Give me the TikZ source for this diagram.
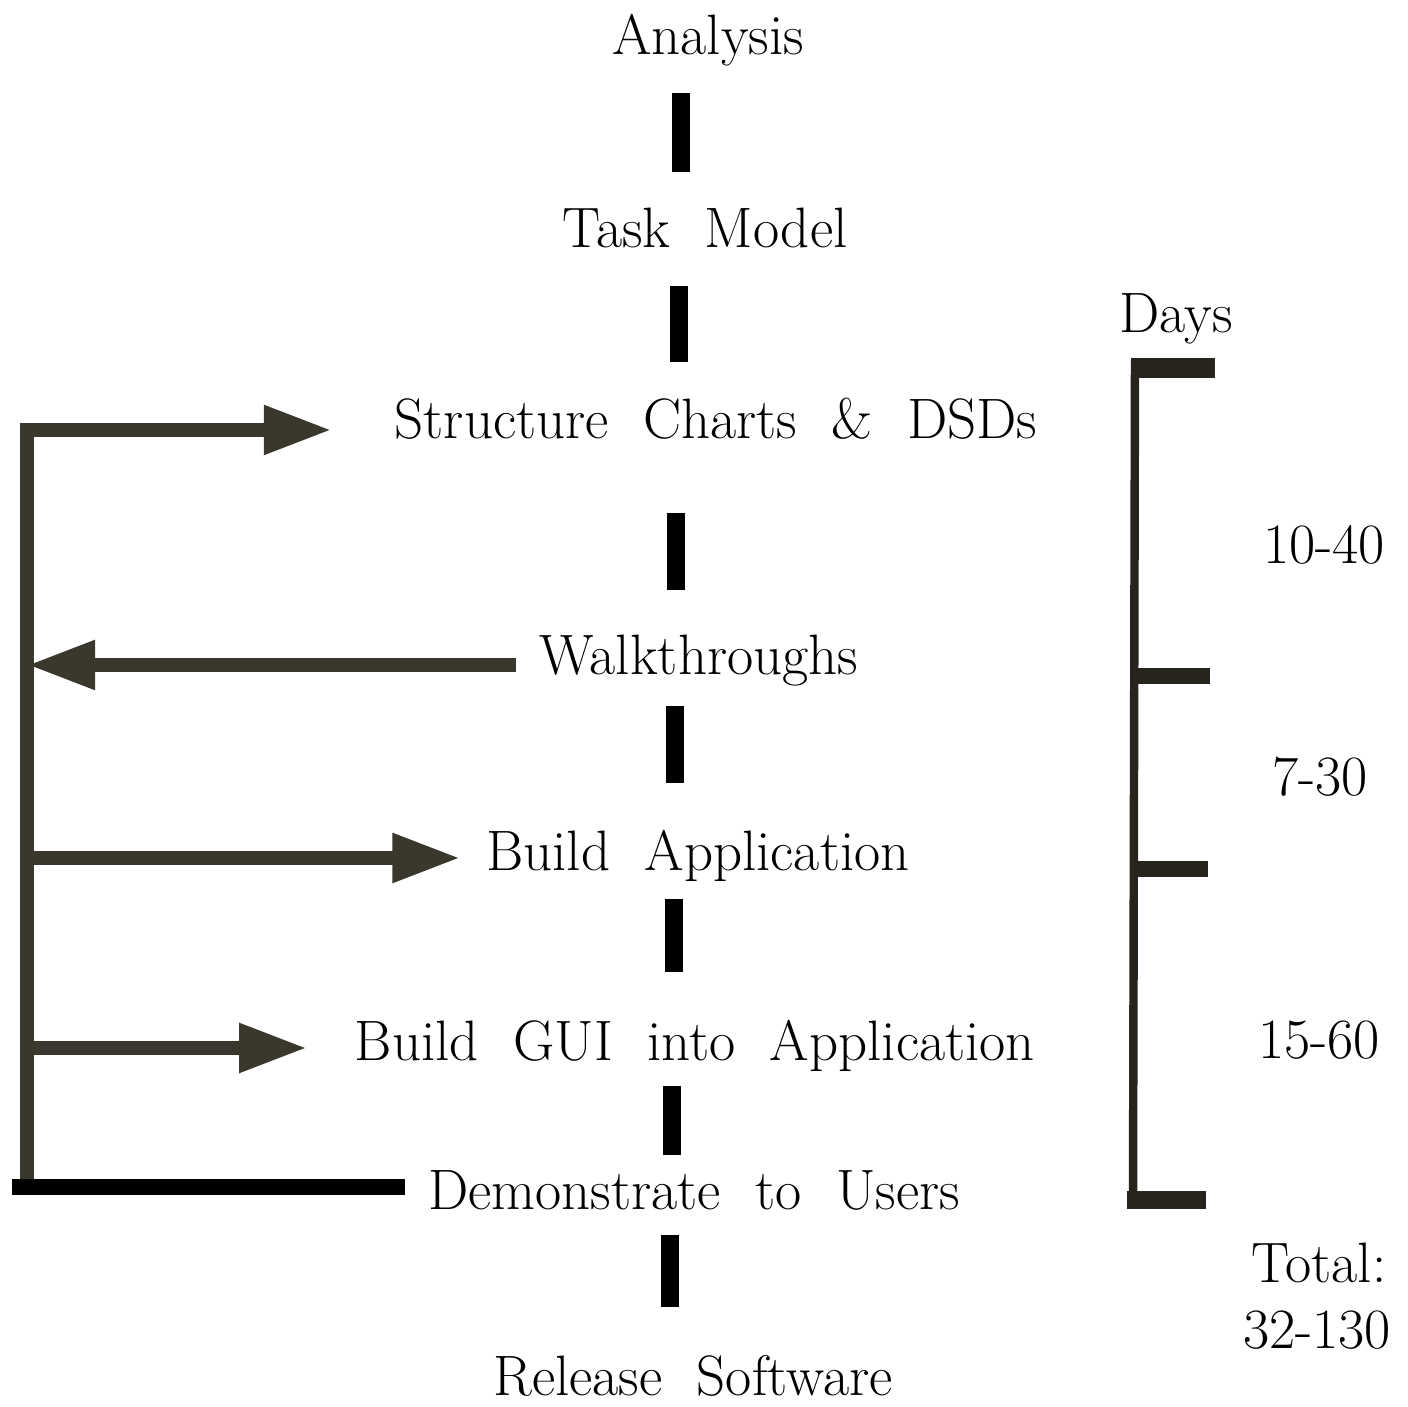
\documentclass[tikz,border=0pt]{standalone}
\usepackage{tikz}
\usetikzlibrary{arrows.meta,calc}
\definecolor{arrowgray}{RGB}{58,56,44}
\definecolor{brackgray}{RGB}{38,36,28}
\tikzset{
  stage/.style={inner sep=0pt,anchor=base,font=\fontsize{16.2}{19}\selectfont},
  feed/.style={draw=arrowgray,line width=4pt},
  fhead/.style={-{Triangle[length=6.8mm,width=4.6mm]}},
  bar/.style={line width=5.1pt,black},
  tick/.style={draw=brackgray,line width=5pt}
}
\begin{document}
\begin{tikzpicture}[x=0.01cm,y=-0.01cm]
\useasboundingbox (0,0) rectangle (1408,1407);
% stages
\node[stage] (analysis) at (708,55) {Analysis};
\node[stage] (task) at (705,248) {Task\ \ Model};
\node[stage] (structure) at (716,439) {Structure\ \ Charts\ \ \&\ \ DSDs};
\node[stage] (walk) at (699,675) {Walkthroughs};
\node[stage] (buildapp) at (698,871) {Build\ \ Application};
\node[stage] (gui) at (695,1061) {Build\ \ GUI\ \ into\ \ Application};
\node[stage] (demo) at (694,1210) {Demonstrate\ \ to\ \ Users};
\node[stage] (release) at (693,1396) {Release\ \ Software};
\foreach \x/\ya/\yb in {681/93/172,679/286/362,676/513/590,675/706/783,674/899/972,672/1086/1155,670/1235/1307}
{ \draw[bar] (\x,\ya)--(\x,\yb);
}
% feedback loop on the left
\coordinate (sTop) at (27,430);
\coordinate (sWalk) at (27,665);
\coordinate (sApp) at (27,858);
\coordinate (sGui) at (27,1048);
\coordinate (sBot) at (27,1187);
\coordinate (sEnd) at (12,1187);
\draw[feed,fhead,line join=miter,shorten >=6.2mm] (sBot)--(sTop)--(sTop -| structure.west);
\draw[feed,fhead,shorten <=2.3mm] (sWalk -| walk.west)--(sWalk);
\draw[feed,fhead,shorten >=2.5mm] (sApp)--(sApp -| buildapp.west);
\draw[feed,fhead,shorten >=4.7mm] (sGui)--(sGui -| gui.west);
\draw[line width=4.6pt,shorten >=2.2mm] (sEnd)--(sEnd -| demo.west);
% days bracket
\draw[draw=brackgray,line width=2.4pt] (1135,360)--(1133,1200);
\draw[tick,line width=5.8pt] (1131,368)--(1215,368);
\draw[tick,line width=4.4pt] (1134,676)--(1210,676);
\draw[tick,line width=4.4pt] (1134,869)--(1208,869);
\draw[tick] (1127,1200)--(1206,1200);
\node[stage] (days) at (1176,333) {Days};
\node[stage] (d1) at (1324,564) {10-40};
\node[stage] (d2) at (1320,796) {7-30};
\node[stage] (d3) at (1319,1059) {15-60};
\node[stage] (total) at (1319,1283) {Total:};
\node[stage] (sum) at (1317,1349) {32-130};
\end{tikzpicture}
\end{document}
